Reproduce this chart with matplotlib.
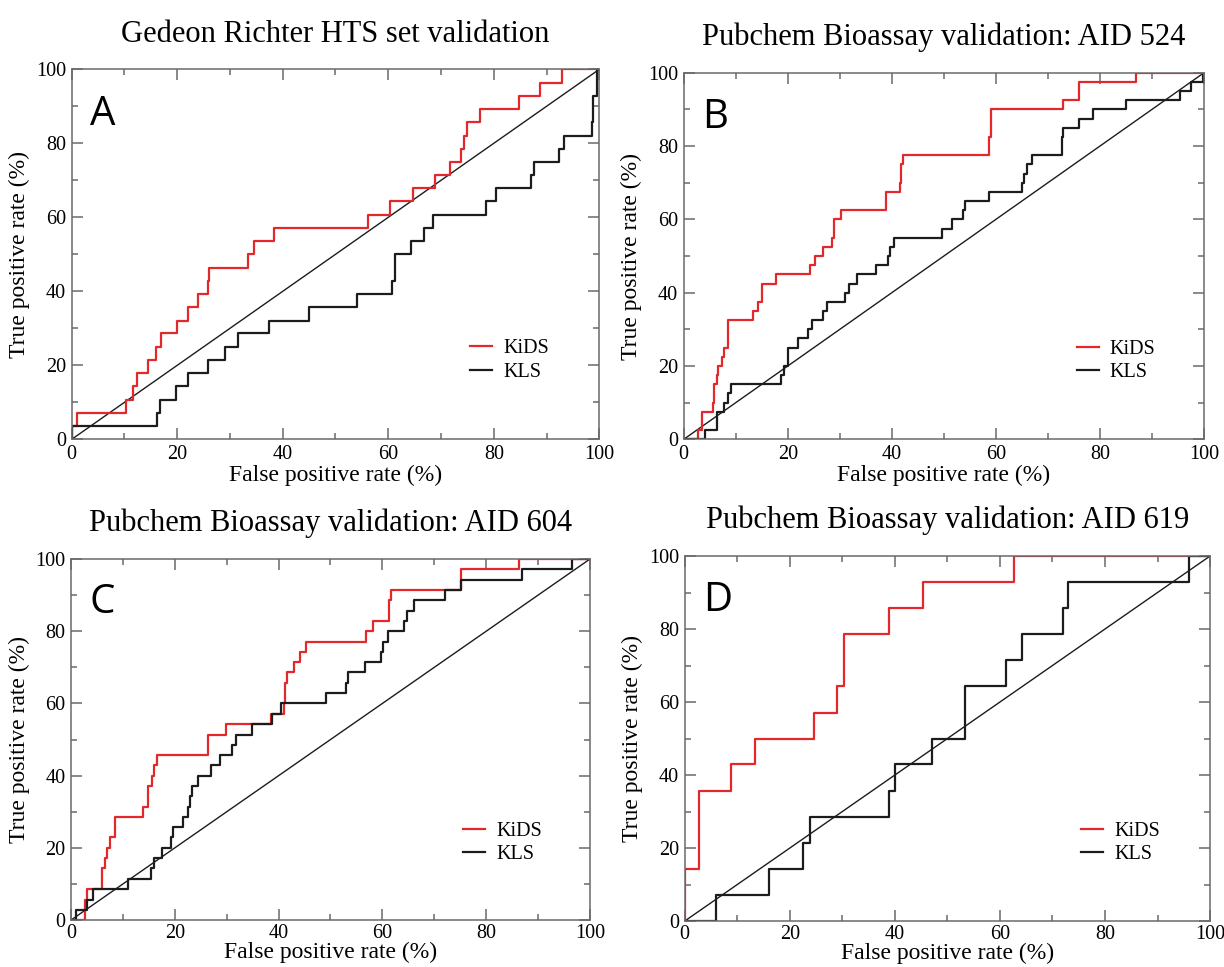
import matplotlib.pyplot as plt
from matplotlib.ticker import MultipleLocator

# ROC curves: FPR (%) where TPR (%) jumps, TPR after the jump
a_kids_fpr = [0, 0, 1, 10.3, 11.7, 12.3, 14.5, 16, 17, 20, 22, 24, 25.8, 26, 33.5, 34.5, 38.4,
              56.2, 60.4, 64.6, 68.8, 71.7, 73.8, 74.4, 75, 77.3, 84.8, 88.8, 93, 100]
a_kids_tpr = [0, 3.6, 7.1, 10.7, 14.3, 17.9, 21.4, 25, 28.6, 32.1, 35.7, 39.3, 42.9, 46.4, 50, 53.6, 57.1,
              60.7, 64.3, 67.9, 71.4, 75, 78.6, 82.1, 85.7, 89.3, 92.9, 96.4, 100, 100]
a_kls_fpr = [0, 0, 16.2, 16.7, 19.8, 22, 25.9, 29, 31.6, 37.3, 45, 54, 60.8, 61.3, 61.3, 64.4, 66.8,
             68.4, 78.6, 80.4, 87.1, 87.6, 92.4, 93.4, 98.6, 98.9, 98.9, 99.5, 99.5, 100]
a_kls_tpr = [0, 3.6, 7.1, 10.7, 14.3, 17.9, 21.4, 25, 28.6, 32.1, 35.7, 39.3, 42.9, 46.4, 50, 53.6, 57.1,
             60.7, 64.3, 67.9, 71.4, 75, 78.6, 82.1, 85.7, 89.3, 92.9, 96.4, 100, 100]

b_kids_fpr = [0, 2.7, 3.5, 5.6, 5.9, 6.3, 6.6, 7.4, 7.7, 8.6, 13.4, 14.3, 15.1, 17.8, 24.2, 25.2, 26.8,
              28.5, 28.9, 30.3, 38.9, 41.5, 41.8, 42.2, 58.7, 59, 72.8, 75.9, 87, 100]
b_kids_tpr = [0, 2.5, 7.5, 10, 15, 17.5, 20, 22.5, 25, 32.5, 35, 37.5, 42.5, 45, 47.5, 50, 52.5,
              55, 60, 62.5, 67.5, 70, 75, 77.5, 82.5, 90, 92.5, 97.5, 100, 100]
b_kls_fpr = [0, 4, 6.3, 7.7, 8.6, 9, 18.6, 19.2, 20.1, 22, 23.8, 24.7, 26.7, 27.5, 31, 31.7, 33.3, 37,
             39.2, 39.7, 40.5, 49.6, 51.6, 53.7, 54.1, 58.6, 65, 65.4, 65.9, 66.9, 72.7, 72.9, 76,
             78.6, 85, 95.3, 97.4, 99.8, 100]
b_kls_tpr = [0, 2.5, 7.5, 10, 12.5, 15, 17.5, 20, 25, 27.5, 30, 32.5, 35, 37.5, 40, 42.5, 45, 47.5,
             50, 52.5, 55, 57.5, 60, 62.5, 65, 67.5, 70, 72.5, 75, 77.5, 82.5, 85, 87.5,
             90, 92.5, 95, 97.5, 100, 100]

c_kids_fpr = [0, 2.7, 3.1, 5.9, 6.5, 7, 7.5, 8.5, 13.9, 14.9, 15.6, 16, 16.5, 26.4, 29.9, 38.6, 41,
              41.3, 41.6, 42.9, 44.2, 45.2, 56.8, 58.2, 61.3, 61.7, 75.2, 86.3, 100]
c_kids_tpr = [0, 5.7, 8.6, 14.3, 17.1, 20, 22.9, 28.6, 31.4, 37.1, 40, 42.9, 45.7, 51.4, 54.3, 57.1, 60,
              65.7, 68.6, 71.4, 74.3, 77.1, 80, 82.9, 88.6, 91.4, 97.1, 100, 100]
c_kls_fpr = [0, 0.9, 3, 4.3, 11, 15.5, 15.9, 17.6, 19.2, 19.7, 21.6, 22.6, 23, 23.4, 24.5, 26.9, 28.7,
             31.1, 31.7, 34.9, 38.8, 40.5, 49.2, 53, 53.4, 56.6, 59.8, 60.2, 61, 64.2, 64.8, 66.1,
             72.1, 75.2, 86.9, 96.5, 100]
c_kls_tpr = [0, 2.9, 5.7, 8.6, 11.4, 14.3, 17.1, 20, 22.9, 25.7, 28.6, 31.4, 34.3, 37.1, 40, 42.9, 45.7,
             48.6, 51.4, 54.3, 57.1, 60, 62.9, 65.7, 68.6, 71.4, 74.3, 77.1, 80, 82.9, 85.7, 88.6,
             91.4, 94.3, 97.1, 100, 100]

d_kids_fpr = [0, 0, 2.8, 8.9, 13.3, 24.6, 28.9, 30.3, 38.9, 45.4, 62.6, 100]
d_kids_tpr = [0, 14.3, 35.7, 42.9, 50, 57.1, 64.3, 78.6, 85.7, 92.9, 100, 100]
d_kls_fpr = [0, 6, 16.1, 22.5, 23.9, 38.9, 40.1, 47, 53.4, 61.1, 64.3, 72, 73, 96, 100]
d_kls_tpr = [0, 7.1, 14.3, 21.4, 28.6, 35.7, 42.9, 50, 64.3, 71.4, 78.6, 85.7, 92.9, 100, 100]

titles = [
    "Gedeon Richter HTS set validation",
    "Pubchem Bioassay validation: AID 524",
    "Pubchem Bioassay validation: AID 604",
    "Pubchem Bioassay validation: AID 619",
]
letters = ["A", "B", "C", "D"]
curves = [
    (a_kids_fpr, a_kids_tpr, a_kls_fpr, a_kls_tpr),
    (b_kids_fpr, b_kids_tpr, b_kls_fpr, b_kls_tpr),
    (c_kids_fpr, c_kids_tpr, c_kls_fpr, c_kls_tpr),
    (d_kids_fpr, d_kids_tpr, d_kls_fpr, d_kls_tpr),
]

# axes boxes in figure fraction (left, bottom, width, height)
boxes = [
    (0.0586, 0.5457, 0.4310, 0.3826),
    (0.5586, 0.5457, 0.4251, 0.3791),
    (0.0580, 0.0485, 0.4240, 0.3734),
    (0.5594, 0.0475, 0.4292, 0.3775),
]

RED = "#e2282a"
DARK = "#1c1c1c"
SPINE = "#6a6a6a"

plt.rcParams["font.family"] = ["Liberation Serif", "DejaVu Serif"]

fig = plt.figure(figsize=(12.24, 9.67), dpi=100)

for i in range(4):
    ax = fig.add_axes(boxes[i])
    kids_x, kids_y, kls_x, kls_y = curves[i]

    ax.plot([0, 100], [0, 100], color=DARK, linewidth=1.0)
    ax.plot(kids_x, kids_y, drawstyle="steps-post", color=RED, linewidth=1.6, label="KiDS")
    ax.plot(kls_x, kls_y, drawstyle="steps-post", color=DARK, linewidth=1.6, label="KLS")

    ax.set_xlim(0, 100)
    ax.set_ylim(0, 100)
    ax.xaxis.set_major_locator(MultipleLocator(20))
    ax.xaxis.set_minor_locator(MultipleLocator(10))
    ax.yaxis.set_major_locator(MultipleLocator(20))
    ax.yaxis.set_minor_locator(MultipleLocator(10))
    ax.tick_params(which="both", direction="in", top=True, right=True,
                   color=SPINE, width=1.1, labelsize=14.5, pad=4)
    ax.tick_params(which="major", length=8)
    ax.tick_params(which="minor", length=4)
    for sp in ax.spines.values():
        sp.set_color(SPINE)
        sp.set_linewidth(1.1)

    # bottom row sits close to the figure edge
    if i < 2:
        ax.set_xlabel("False positive rate (%)", fontsize=17, labelpad=1)
    else:
        ax.tick_params(axis="x", pad=3)
        ax.set_xlabel("False positive rate (%)", fontsize=17, labelpad=-1)
    ax.set_ylabel("True positive rate (%)", fontsize=17, labelpad=4)
    ax.set_title(titles[i], fontsize=22, pad=20)

    ax.text(0.035, 0.85, letters[i], transform=ax.transAxes, fontsize=29,
            family="Open Sans", va="baseline", ha="left")

    ax.legend(loc="center left", bbox_to_anchor=(0.755, 0.213), frameon=False,
              fontsize=14.5, handlelength=1.1, handletextpad=0.55,
              labelspacing=0.2, borderpad=0, borderaxespad=0)

fig.savefig("out.png", dpi=100)
